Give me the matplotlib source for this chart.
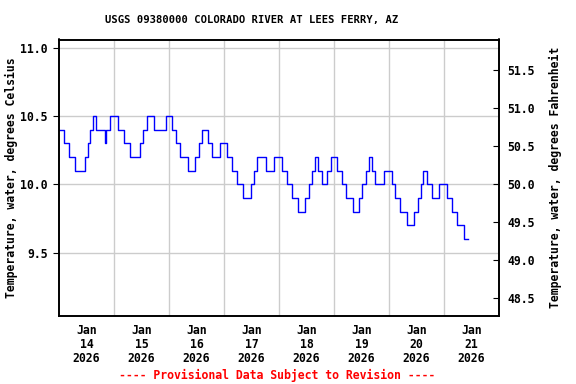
import matplotlib
matplotlib.use("Agg")
import matplotlib.pyplot as plt
import numpy as np

# Hours since Jan 14 2026 00:00 at which the reading changes, and the reading (deg C)
change_hours = [0.2, 2.0, 4.4, 6.9, 11.2, 12.8, 13.7, 15.0, 16.3, 20.2, 20.6, 22.2,
                25.6, 28.3, 30.9, 35.5, 36.8, 38.3, 41.4, 46.8,
                49.2, 51.0, 53.0, 56.4, 59.4, 61.0, 62.4, 64.9, 66.7, 70.1,
                73.2, 75.5, 77.5, 80.3, 83.6, 85.2, 86.5, 90.2, 93.8,
                97.1, 99.4, 101.8, 104.3, 107.2, 109.0, 110.4, 111.5, 112.8, 114.7, 116.9, 118.6,
                121.1, 123.4, 125.2, 128.4, 131.1, 132.4, 134.1, 135.2, 136.5, 138.1, 142.0,
                145.5, 146.7, 149.0, 151.7, 155.1, 156.5, 158.0, 159.0, 160.5, 162.6, 165.8,
                169.4, 171.4, 173.8, 176.6, 178.3]
temps_c = [10.4, 10.3, 10.2, 10.1, 10.2, 10.3, 10.4, 10.5, 10.4, 10.3, 10.4, 10.5,
           10.4, 10.3, 10.2, 10.3, 10.4, 10.5, 10.4, 10.5,
           10.4, 10.3, 10.2, 10.1, 10.2, 10.3, 10.4, 10.3, 10.2, 10.3,
           10.2, 10.1, 10.0, 9.9, 10.0, 10.1, 10.2, 10.1, 10.2,
           10.1, 10.0, 9.9, 9.8, 9.9, 10.0, 10.1, 10.2, 10.1, 10.0, 10.1, 10.2,
           10.1, 10.0, 9.9, 9.8, 9.9, 10.0, 10.1, 10.2, 10.1, 10.0, 10.1,
           10.0, 9.9, 9.8, 9.7, 9.8, 9.9, 10.0, 10.1, 10.0, 9.9, 10.0,
           9.9, 9.8, 9.7, 9.6, 9.6]

day_labels = ["Jan\n14\n2026", "Jan\n15\n2026", "Jan\n16\n2026", "Jan\n17\n2026",
              "Jan\n18\n2026", "Jan\n19\n2026", "Jan\n20\n2026", "Jan\n21\n2026"]
c_ticks = [9.5, 10.0, 10.5, 11.0]
f_ticks = [48.5, 49.0, 49.5, 50.0, 50.5, 51.0, 51.5]

FONT = "DejaVu Sans Mono"
plt.rcParams['font.family'] = FONT
plt.rcParams['font.weight'] = 'bold'

fig = plt.figure(figsize=(5.76, 3.84), dpi=100)
ax = fig.add_axes([59/576, 1-316/384, 440/576, 276.5/384])

ax.plot(change_hours, temps_c, drawstyle='steps-post', color='#0000ff', lw=1.0)

ax.set_xlim(0, 192)
ylo, yhi = 9.036, 11.06
ax.set_ylim(ylo, yhi)

ax.set_xticks(np.arange(24, 192, 24))
ax.set_xticks(np.arange(12, 192, 24), minor=True)
ax.set_xticklabels([], minor=False)
ax.set_xticklabels(day_labels, minor=True, fontsize=8.3, fontweight='bold', linespacing=1.1)
ax.tick_params(axis='x', which='major', length=0)
ax.tick_params(axis='x', which='minor', length=0, pad=6)
ax.grid(True, axis='x', which='major', color='#cccccc', lw=1)

ax.set_yticks(c_ticks)
ax.set_yticklabels([f"{v:.1f}" for v in c_ticks], fontsize=8.3, fontweight='bold')
ax.tick_params(axis='y', direction='out', length=4, pad=4)
ax.grid(True, axis='y', which='major', color='#cccccc', lw=1)
ax.set_axisbelow(True)

ax.set_ylabel("Temperature, water, degrees Celsius", fontsize=8.3, fontweight='bold', labelpad=2)

ax2 = ax.twinx()
ax2.set_ylim(ylo*9/5+32, yhi*9/5+32)
ax2.set_yticks(f_ticks)
ax2.set_yticklabels([f"{v:.1f}" for v in f_ticks], fontsize=8.3, fontweight='bold')
ax2.tick_params(axis='y', direction='in', length=4, pad=6)
ax2.set_ylabel("Temperature, water, degrees Fahrenheit", fontsize=8.3, fontweight='bold', labelpad=10)

for a in (ax, ax2):
    for s in a.spines.values():
        s.set_linewidth(1.2)
        s.set_color('black')

fig.text(251.5/576, 1-20/384, "USGS 09380000 COLORADO RIVER AT LEES FERRY, AZ",
         ha='center', va='center', fontsize=7.6, fontweight='bold')
fig.text(277.5/576, 1-375.5/384, "---- Provisional Data Subject to Revision ----",
         ha='center', va='center', fontsize=8.3, fontweight='bold', color='#ff0000')

fig.savefig("out.png", dpi=100)
